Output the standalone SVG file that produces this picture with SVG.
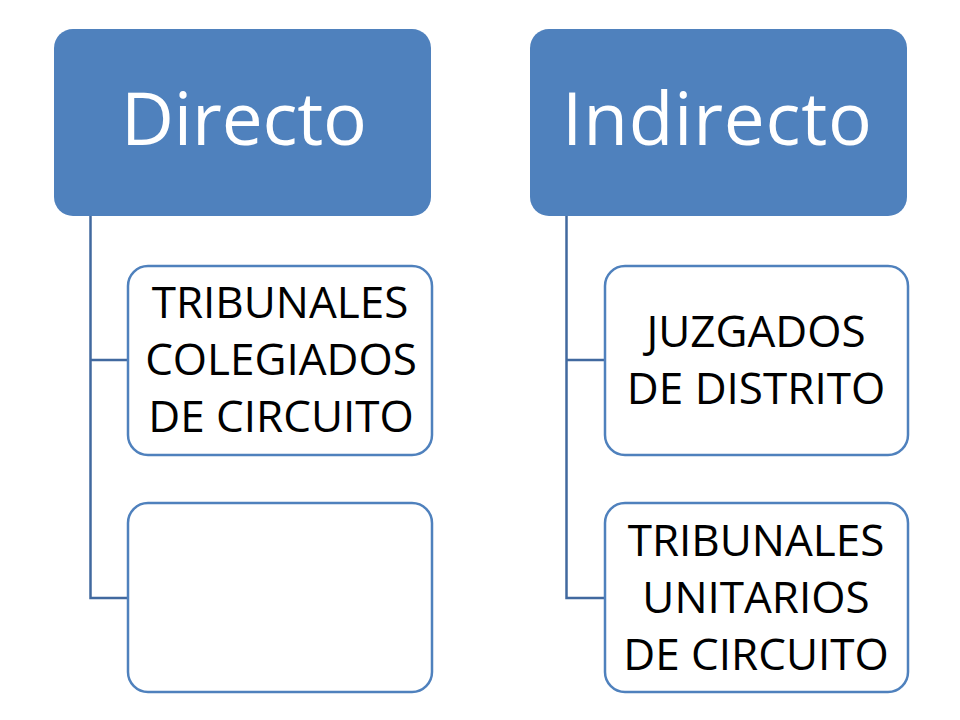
<svg xmlns="http://www.w3.org/2000/svg" width="960" height="720" viewBox="0 0 960 720">
<style>
.hdr{fill:#4F81BD;}
.box{fill:#FFFFFF;stroke:#4F81BD;stroke-width:2.5;}
.conn{fill:none;stroke:#41699F;stroke-width:2.5;}
.ht{font-family:"Open Sans","Liberation Sans",sans-serif;font-size:73px;fill:#FFFFFF;text-anchor:middle;}
.bt{font-family:"Open Sans","Liberation Sans",sans-serif;font-size:44px;fill:#000000;text-anchor:middle;}
</style>
<rect width="960" height="720" fill="#FFFFFF"/>
<g id="connectors">
<path class="conn" d="M90.5 215 V598 H128"/>
<path class="conn" d="M90.5 360 H128"/>
<path class="conn" d="M566.5 215 V598 H605"/>
<path class="conn" d="M566.5 360 H605"/>
</g>
<g id="directo">
<rect class="hdr" x="54" y="29" width="377" height="187" rx="19"/>
<text class="ht" x="244" y="145" textLength="246">Directo</text>
</g>
<g id="indirecto">
<rect class="hdr" x="530" y="29" width="377" height="187" rx="19"/>
<text class="ht" x="717" y="145" textLength="310">Indirecto</text>
</g>
<g id="tribunales-colegiados">
<rect class="box" x="128" y="266" width="304" height="189" rx="20"/>
<text class="bt" x="280" y="318">TRIBUNALES</text>
<text class="bt" x="281" y="375">COLEGIADOS</text>
<text class="bt" x="281" y="432">DE CIRCUITO</text>
</g>
<g id="empty-box">
<rect class="box" x="128" y="503" width="304" height="189" rx="20"/>
</g>
<g id="juzgados-distrito">
<rect class="box" x="605" y="266" width="303" height="189" rx="20"/>
<text class="bt" x="756" y="347">JUZGADOS</text>
<text class="bt" x="756" y="404">DE DISTRITO</text>
</g>
<g id="tribunales-unitarios">
<rect class="box" x="605" y="503" width="303" height="189" rx="20"/>
<text class="bt" x="756" y="556">TRIBUNALES</text>
<text class="bt" x="756" y="613">UNITARIOS</text>
<text class="bt" x="756" y="670">DE CIRCUITO</text>
</g>
</svg>
